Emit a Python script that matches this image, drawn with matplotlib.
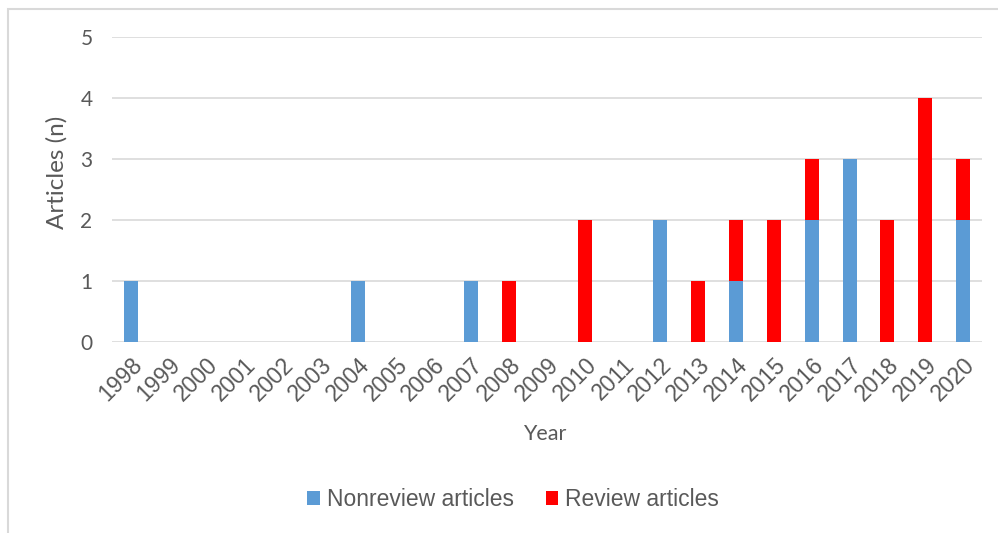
import matplotlib.pyplot as plt
from matplotlib.patches import Rectangle
import numpy as np

plt.rcParams['font.family'] = ['Liberation Sans', 'DejaVu Sans']

# Articles per year
years = [str(y) for y in range(1998, 2021)]
nonreview = [1, 0, 0, 0, 0, 0, 1, 0, 0, 1, 0, 0, 0, 0, 2, 0, 1, 0, 2, 3, 0, 0, 2]
review = [0, 0, 0, 0, 0, 0, 0, 0, 0, 0, 1, 0, 2, 0, 0, 1, 1, 2, 1, 0, 2, 4, 1]

blue = '#5B9BD5'
red = '#FF0000'
grey_text = '#595959'

fig = plt.figure(figsize=(9.98, 5.33), dpi=100)
ax = fig.add_axes([112/998, 1 - 342/533, 870/998, 305/533])

x = np.arange(len(years))
ax.bar(x, nonreview, width=0.37, color=blue, label='Nonreview articles', zorder=3)
ax.bar(x, review, width=0.37, bottom=nonreview, color=red, label='Review articles', zorder=3)

ax.set_xlim(-0.5, len(years) - 0.5)
ax.set_ylim(0, 5)
ax.set_yticks(range(6))
ax.yaxis.grid(True, color='#D9D9D9', linewidth=1.2, zorder=0)
ax.set_axisbelow(True)
for s in ax.spines.values():
    s.set_visible(False)

ax.set_xticks(x)
ax.set_xticklabels(years, rotation=45, ha='right', rotation_mode='anchor')
ax.tick_params(axis='both', length=0, labelcolor=grey_text)
ax.tick_params(axis='x', pad=8, labelsize=16.5)
ax.tick_params(axis='y', pad=14, labelsize=15)
for lbl in ax.get_yticklabels():
    lbl.set_fontfamily('Lato')

ax.set_xlabel('Year', fontsize=15.5, color=grey_text, family='Lato')
ax.xaxis.set_label_coords((545 - 112) / 870, (342 - 424) / 305)
ax.set_ylabel('Articles (n)', fontsize=17.5, color=grey_text, family='Lato')
ax.yaxis.set_label_coords((68 - 112) / 870, (342 - 172) / 305)

fig.legend(loc='center', bbox_to_anchor=(513/998, 1 - 500/533), ncol=2, frameon=False,
           fontsize=16.5, labelcolor=grey_text, handlelength=0.55, handleheight=0.55,
           handletextpad=0.3, columnspacing=1.4)

# chart frame
fig.patches.append(Rectangle((8/998, -0.02), 1.0, 1 - 9/533 + 0.02, transform=fig.transFigure,
                             fill=False, edgecolor='#D9D9D9', linewidth=1.5))

fig.savefig('out.png', dpi=100)
